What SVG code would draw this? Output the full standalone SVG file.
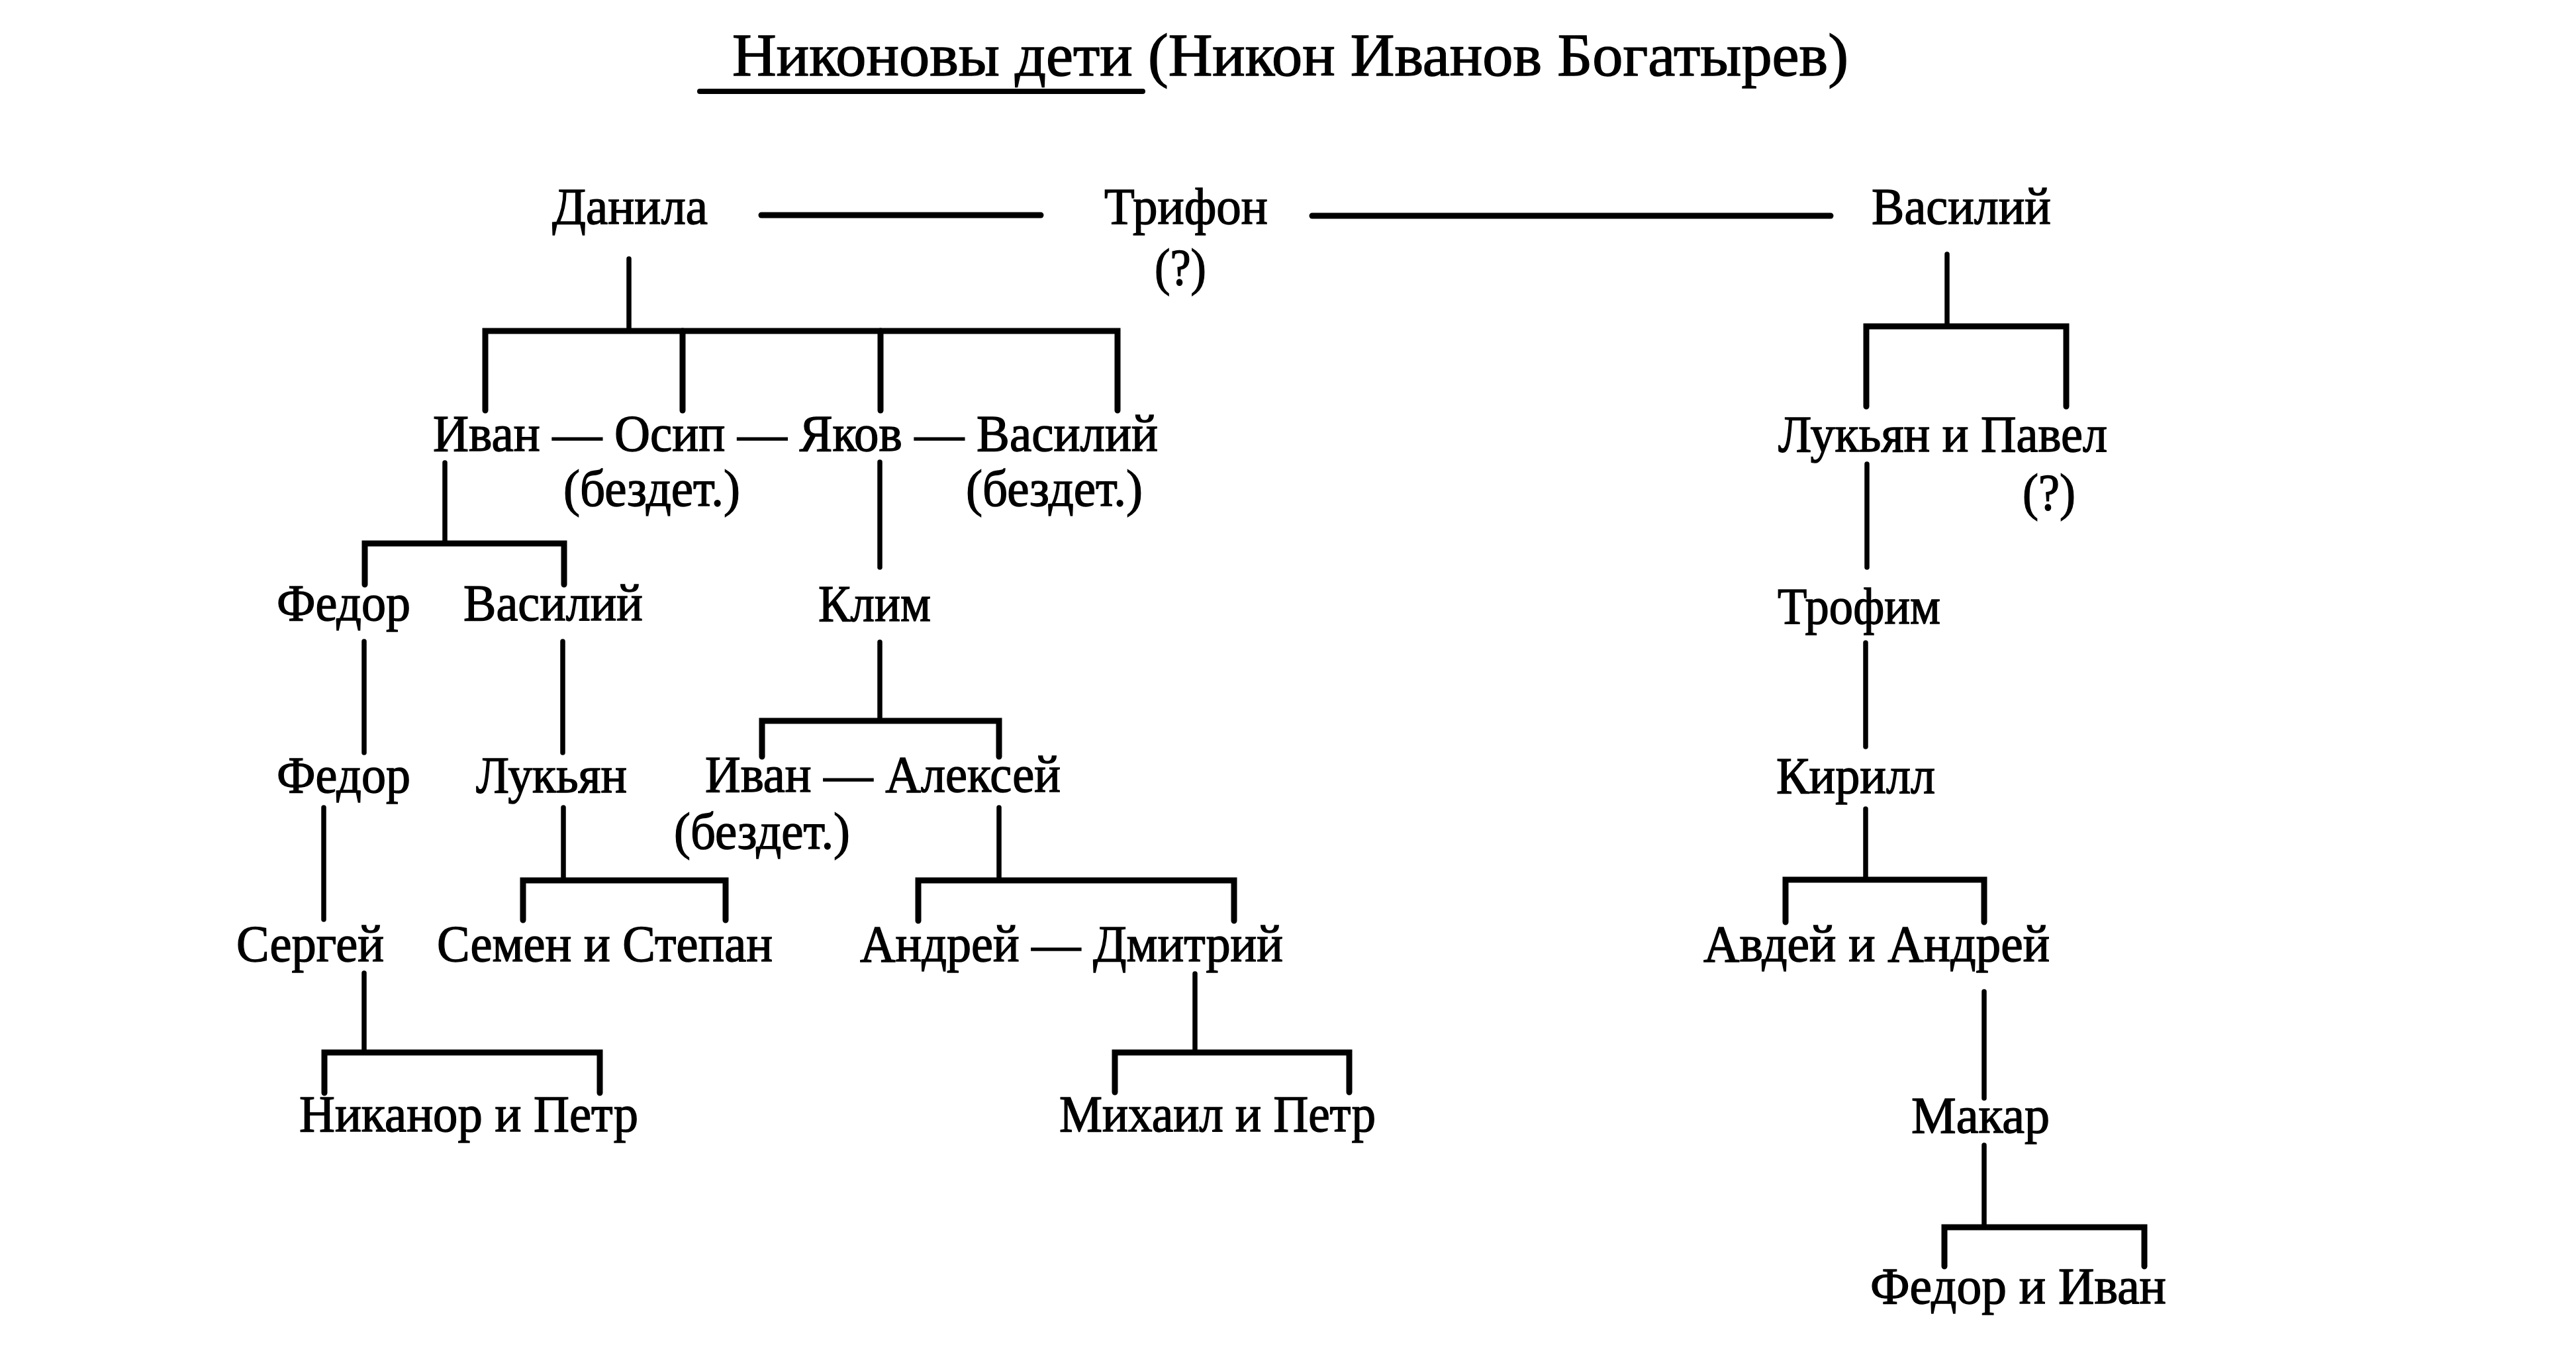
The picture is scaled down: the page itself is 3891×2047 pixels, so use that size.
<svg xmlns="http://www.w3.org/2000/svg" width="3891" height="2047" viewBox="0 0 3891 2047">
<style>
  text { font-family: "Liberation Serif", "Times New Roman", serif; font-size: 78px; fill: #000; stroke: #000; stroke-width: 1.4; }
  .title { font-size: 92px; }
  .ln { fill: none; stroke: #000; stroke-width: 7.5; stroke-linecap: round; }
  .br { fill: none; stroke: #000; stroke-width: 9; stroke-linecap: round; stroke-linejoin: miter; }
</style>
<rect x="0" y="0" width="3891" height="2047" fill="#fff"/>

<g id="title">
  <text class="title" x="1106" y="114" textLength="1686" lengthAdjust="spacingAndGlyphs">Никоновы дети (Никон Иванов Богатырев)</text>
  <line class="ln" x1="1057" y1="138" x2="1726" y2="138" style="stroke-width:8"/>
</g>

<g id="connectors">
  <line class="br" x1="1150" y1="325" x2="1572" y2="325"/>
  <line class="br" x1="1982" y1="326" x2="2765" y2="326"/>
  <line class="ln" x1="950" y1="391" x2="950" y2="500"/>
  <path class="br" d="M733 620 V500 H1688 V620"/>
  <line class="br" x1="1031" y1="500" x2="1031" y2="620"/>
  <line class="br" x1="1330" y1="500" x2="1330" y2="620"/>
  <line class="ln" x1="672" y1="699" x2="672" y2="821"/>
  <path class="br" d="M551 883 V821 H852 V883"/>
  <line class="ln" x1="1329" y1="698" x2="1329" y2="857"/>
  <line class="ln" x1="550" y1="969" x2="550" y2="1137"/>
  <line class="ln" x1="850" y1="969" x2="850" y2="1137"/>
  <line class="ln" x1="1329" y1="970" x2="1329" y2="1089"/>
  <path class="br" d="M1151 1143 V1089 H1509 V1143"/>
  <line class="ln" x1="489" y1="1220" x2="489" y2="1389"/>
  <line class="ln" x1="851" y1="1220" x2="851" y2="1330"/>
  <path class="br" d="M790 1390 V1330 H1096 V1390"/>
  <line class="ln" x1="1509" y1="1220" x2="1509" y2="1330"/>
  <path class="br" d="M1387 1391 V1330 H1864 V1391"/>
  <line class="ln" x1="550" y1="1470" x2="550" y2="1590"/>
  <path class="br" d="M490 1651 V1590 H906 V1651"/>
  <line class="ln" x1="1805" y1="1471" x2="1805" y2="1590"/>
  <path class="br" d="M1684 1650 V1590 H2038 V1650"/>
  <line class="ln" x1="2941" y1="384" x2="2941" y2="493"/>
  <path class="br" d="M2819 614 V493 H3121 V614"/>
  <line class="ln" x1="2820" y1="701" x2="2820" y2="857"/>
  <line class="ln" x1="2818" y1="971" x2="2818" y2="1128"/>
  <line class="ln" x1="2818" y1="1222" x2="2818" y2="1329"/>
  <path class="br" d="M2697 1393 V1329 H2997 V1393"/>
  <line class="ln" x1="2997" y1="1498" x2="2997" y2="1659"/>
  <line class="ln" x1="2997" y1="1730" x2="2997" y2="1854"/>
  <path class="br" d="M2937 1913 V1854 H3239 V1913"/>
</g>

<g id="node-danila"><text x="834" y="338" textLength="235" lengthAdjust="spacingAndGlyphs">Данила</text></g>
<g id="node-trifon">
  <text x="1668" y="338" textLength="247" lengthAdjust="spacingAndGlyphs">Трифон</text>
  <text x="1744" y="430" textLength="78" lengthAdjust="spacingAndGlyphs">(?)</text>
</g>
<g id="node-vasily-1"><text x="2827" y="338" textLength="271" lengthAdjust="spacingAndGlyphs">Василий</text></g>

<g id="node-row2">
  <text x="654" y="681" textLength="1095" lengthAdjust="spacingAndGlyphs">Иван — Осип — Яков — Василий</text>
  <text x="851" y="764" textLength="267" lengthAdjust="spacingAndGlyphs">(бездет.)</text>
  <text x="1459" y="764" textLength="267" lengthAdjust="spacingAndGlyphs">(бездет.)</text>
</g>

<g id="node-lukyan-pavel">
  <text x="2686" y="682" textLength="497" lengthAdjust="spacingAndGlyphs">Лукьян и Павел</text>
  <text x="3055" y="770" textLength="80" lengthAdjust="spacingAndGlyphs">(?)</text>
</g>

<g id="node-fedor-1"><text x="418" y="937" textLength="202" lengthAdjust="spacingAndGlyphs">Федор</text></g>
<g id="node-vasily-2"><text x="700" y="937" textLength="271" lengthAdjust="spacingAndGlyphs">Василий</text></g>
<g id="node-klim"><text x="1236" y="938" textLength="170" lengthAdjust="spacingAndGlyphs">Клим</text></g>
<g id="node-trofim"><text x="2685" y="942" textLength="246" lengthAdjust="spacingAndGlyphs">Трофим</text></g>

<g id="node-fedor-2"><text x="418" y="1197" textLength="202" lengthAdjust="spacingAndGlyphs">Федор</text></g>
<g id="node-lukyan"><text x="719" y="1197" textLength="228" lengthAdjust="spacingAndGlyphs">Лукьян</text></g>
<g id="node-ivan-aleksey">
  <text x="1065" y="1196" textLength="537" lengthAdjust="spacingAndGlyphs">Иван — Алексей</text>
  <text x="1018" y="1282" textLength="266" lengthAdjust="spacingAndGlyphs">(бездет.)</text>
</g>
<g id="node-kirill"><text x="2683" y="1198" textLength="240" lengthAdjust="spacingAndGlyphs">Кирилл</text></g>

<g id="node-sergey"><text x="357" y="1452" textLength="223" lengthAdjust="spacingAndGlyphs">Сергей</text></g>
<g id="node-semen-stepan"><text x="660" y="1452" textLength="507" lengthAdjust="spacingAndGlyphs">Семен и Степан</text></g>
<g id="node-andrey-dmitry"><text x="1299" y="1452" textLength="639" lengthAdjust="spacingAndGlyphs">Андрей — Дмитрий</text></g>
<g id="node-avdey-andrey"><text x="2573" y="1452" textLength="523" lengthAdjust="spacingAndGlyphs">Авдей и Андрей</text></g>

<g id="node-nikanor-petr"><text x="452" y="1709" textLength="512" lengthAdjust="spacingAndGlyphs">Никанор и Петр</text></g>
<g id="node-mikhail-petr"><text x="1600" y="1709" textLength="478" lengthAdjust="spacingAndGlyphs">Михаил и Петр</text></g>
<g id="node-makar"><text x="2887" y="1711" textLength="209" lengthAdjust="spacingAndGlyphs">Макар</text></g>

<g id="node-fedor-ivan"><text x="2825" y="1969" textLength="447" lengthAdjust="spacingAndGlyphs">Федор и Иван</text></g>
</svg>
